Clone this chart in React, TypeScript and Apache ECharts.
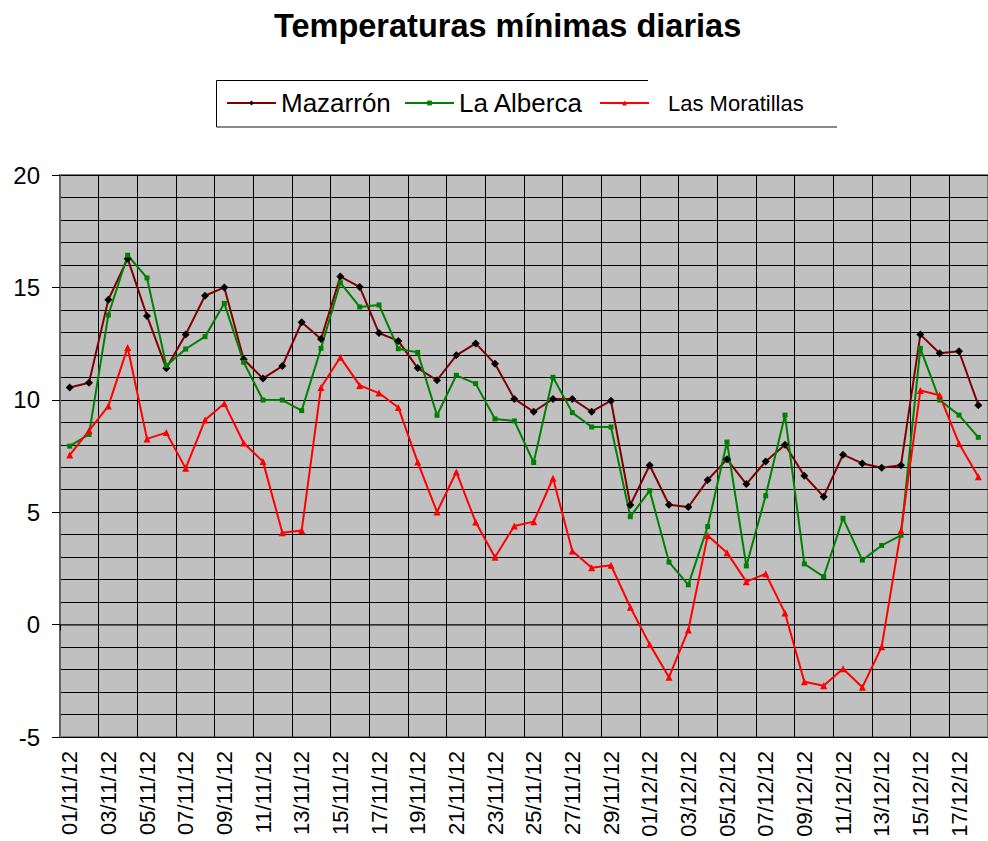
import React, { useEffect, useRef } from "react";
import * as echarts from "echarts";

const dates = [
  "01/11/12", "02/11/12", "03/11/12", "04/11/12", "05/11/12", "06/11/12", "07/11/12", "08/11/12",
  "09/11/12", "10/11/12", "11/11/12", "12/11/12", "13/11/12", "14/11/12", "15/11/12", "16/11/12",
  "17/11/12", "18/11/12", "19/11/12", "20/11/12", "21/11/12", "22/11/12", "23/11/12", "24/11/12",
  "25/11/12", "26/11/12", "27/11/12", "28/11/12", "29/11/12", "30/11/12", "01/12/12", "02/12/12",
  "03/12/12", "04/12/12", "05/12/12", "06/12/12", "07/12/12", "08/12/12", "09/12/12", "10/12/12",
  "11/12/12", "12/12/12", "13/12/12", "14/12/12", "15/12/12", "16/12/12", "17/12/12", "18/12/12",
];

const mazarron = [
  10.55, 10.76, 14.45, 16.28, 13.73, 11.4, 12.9, 14.63, 15.0, 11.8, 10.95, 11.5, 13.45, 12.7,
  15.48, 15.02, 12.97, 12.62, 11.41, 10.87, 11.98, 12.51, 11.6, 10.04, 9.47, 10.04, 10.04, 9.47, 9.96,
  5.32, 7.09,
  5.33, 5.23, 6.43, 7.35, 6.25, 7.26, 8.0, 6.62, 5.69, 7.56, 7.17, 6.98, 7.09,
  12.9, 12.07, 12.16, 9.76,
];

const laAlberca = [
  7.94, 8.46, 13.77, 16.43, 15.42, 11.52, 12.26, 12.81, 14.29, 11.67, 9.99, 9.99, 9.52, 12.29,
  15.21, 14.13, 14.22, 12.27, 12.11, 9.31, 11.09, 10.72, 9.15, 9.06, 7.21, 11.0, 9.43, 8.79, 8.79,
  4.8, 5.96,
  2.78, 1.77, 4.36, 8.12, 2.61, 5.73, 9.32, 2.7, 2.13, 4.73, 2.87, 3.52, 3.97,
  12.29, 9.99, 9.32, 8.33,
];

const moratillas = [
  7.54, 8.63, 9.72, 12.33, 8.26, 8.54, 6.95, 9.1, 9.84, 8.08, 7.25, 4.09, 4.19, 10.55,
  11.89, 10.64, 10.3, 9.66, 7.23, 5.01, 6.79, 4.56, 3.0, 4.39, 4.58, 6.51, 3.27, 2.53, 2.64,
  0.77, -0.88,
  -2.34, -0.24, 3.96, 3.2, 1.91, 2.26, 0.52, -2.54, -2.72, -1.96, -2.79, -0.99, 4.18,
  10.41, 10.2, 8.06, 6.58,
];

const seriesNames = ["Mazarrón", "La Alberca", "Las Moratillas"];
const titleText = "Temperaturas mínimas diarias";

const FONT = "'Liberation Sans', Arial, Helvetica, sans-serif";

export default function App() {
  const ref = useRef<HTMLDivElement>(null);

  useEffect(() => {
    if (!ref.current) return;
    const chart = echarts.init(ref.current, undefined, { renderer: "svg" });

    const legendBase = {
      orient: "horizontal",
      padding: 0,
      itemWidth: 49,
      itemHeight: 6,
      itemGap: 0,
      selectedMode: false,
    };

    chart.setOption({
      animation: false,
      backgroundColor: "#ffffff",
      title: {
        text: titleText,
        left: 274,
        top: 9,
        padding: 0,
        textStyle: {
          fontFamily: FONT,
          fontWeight: "bold",
          fontSize: 32.5,
          color: "#000000",
        },
      },
      legend: [
        {
          ...legendBase,
          left: 226,
          top: 90,
          data: [{ name: seriesNames[0] }],
          textStyle: { fontFamily: FONT, fontSize: 26, color: "#000000" },
        },
        {
          ...legendBase,
          left: 404,
          top: 90,
          data: [{ name: seriesNames[1] }],
          textStyle: { fontFamily: FONT, fontSize: 26, color: "#000000" },
        },
        {
          ...legendBase,
          left: 599,
          top: 92,
          data: [{ name: seriesNames[2] }],
          textStyle: { fontFamily: FONT, fontSize: 22, color: "#000000", padding: [0, 0, 0, 14] },
        },
      ],
      graphic: [
        {
          type: "line",
          shape: { x1: 216.5, y1: 80.5, x2: 648, y2: 80.5 },
          style: { stroke: "#000000", lineWidth: 1 },
          z: 10,
        },
        {
          type: "line",
          shape: { x1: 216.5, y1: 80.5, x2: 216.5, y2: 127 },
          style: { stroke: "#000000", lineWidth: 1 },
          z: 10,
        },
        {
          type: "line",
          shape: { x1: 216.5, y1: 127, x2: 837, y2: 127 },
          style: { stroke: "#606060", lineWidth: 1.5 },
          z: 10,
        },
      ],
      grid: {
        left: 60,
        top: 175,
        width: 936,
        height: 562,
        show: true,
        backgroundColor: "#c0c0c0",
        borderColor: "#808080",
        borderWidth: 2,
        containLabel: false,
      },
      xAxis: {
        type: "category",
        data: dates,
        boundaryGap: true,
        axisLine: { show: true, lineStyle: { color: "#404040", width: 1.5 } },
        axisTick: { show: true, interval: 1, length: 6, lineStyle: { color: "#000000" } },
        axisLabel: {
          interval: 1,
          rotate: 90,
          margin: 14,
          fontFamily: FONT,
          fontSize: 22,
          color: "#000000",
        },
        splitLine: { show: true, interval: 1, lineStyle: { color: "#000000", width: 1 } },
      },
      yAxis: {
        type: "value",
        min: -5,
        max: 20,
        interval: 5,
        axisLine: { show: true, lineStyle: { color: "#606060", width: 2 } },
        axisTick: { show: true, length: 8, lineStyle: { color: "#000000" } },
        axisLabel: {
          margin: 20,
          fontFamily: FONT,
          fontSize: 24,
          color: "#000000",
        },
        splitLine: { show: true, lineStyle: { color: "#000000", width: 1 } },
        minorTick: { show: false, splitNumber: 5 },
        minorSplitLine: { show: true, lineStyle: { color: "#000000", width: 1 } },
      },
      series: [
        {
          name: seriesNames[0],
          type: "line",
          data: mazarron,
          symbol: "diamond",
          symbolSize: 8,
          showAllSymbol: true,
          itemStyle: { color: "#000000" },
          lineStyle: { color: "#800000", width: 2 },
        },
        {
          name: seriesNames[1],
          type: "line",
          data: laAlberca,
          symbol: "rect",
          symbolSize: 5,
          showAllSymbol: true,
          itemStyle: { color: "#008000" },
          lineStyle: { color: "#008000", width: 2 },
        },
        {
          name: seriesNames[2],
          type: "line",
          data: moratillas,
          symbol: "triangle",
          symbolSize: 7,
          showAllSymbol: true,
          itemStyle: { color: "#ff0000" },
          lineStyle: { color: "#ff0000", width: 2 },
        },
      ],
    });

    return () => {
      chart.dispose();
    };
  }, []);

  return (
    <div
      ref={ref}
      style={{ position: "absolute", left: 0, top: 0, width: 988, height: 841, overflow: "hidden" }}
    />
  );
}
